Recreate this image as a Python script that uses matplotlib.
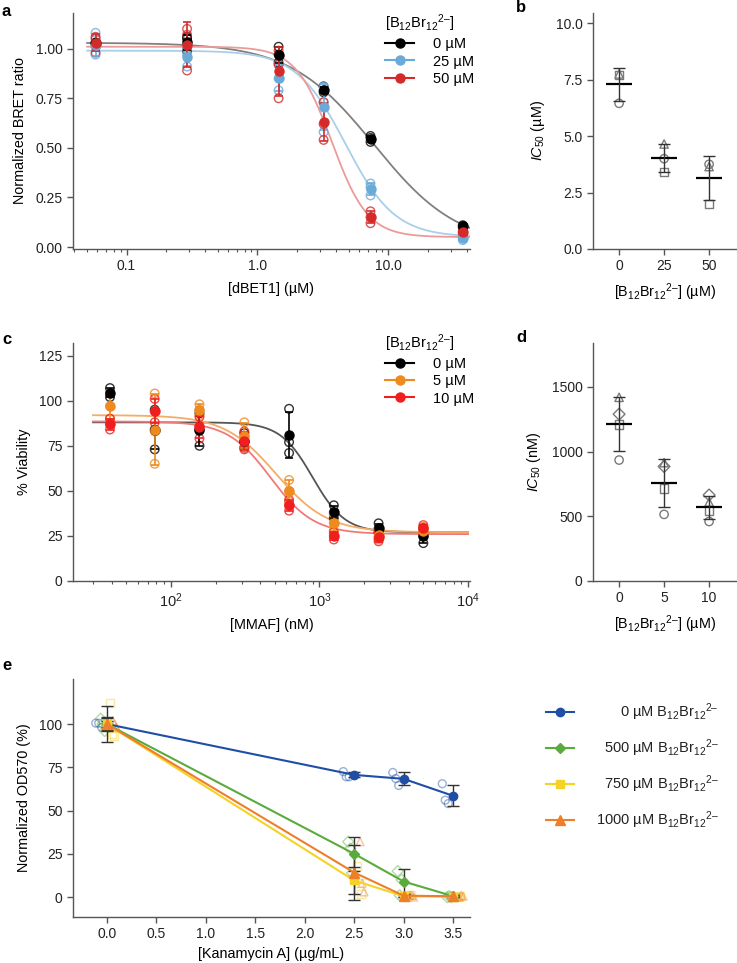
import numpy as np
import matplotlib
matplotlib.use('Agg')
import matplotlib.pyplot as plt
from matplotlib.lines import Line2D
from matplotlib.ticker import FuncFormatter, FixedLocator, NullFormatter

plt.rcParams['font.family'] = ['Liberation Sans', 'DejaVu Sans']
plt.rcParams['font.size'] = 10
plt.rcParams['axes.labelsize'] = 10.4
plt.rcParams['mathtext.fontset'] = 'custom'
plt.rcParams['mathtext.rm'] = 'Liberation Sans'
plt.rcParams['mathtext.it'] = 'Liberation Sans:italic'
plt.rcParams['mathtext.bf'] = 'Liberation Sans:bold'

BBR = r'$\mathregular{B_{12}Br_{12}{}^{2–}}$'

# ---------------- data ----------------
# panel a: dBET1 BRET, 3 replicates per concentration
a_conc = np.array([0.058, 0.29, 1.45, 3.2, 7.3, 37.0])
a_labels = ['0 µM', '25 µM', '50 µM']
a_reps = [
    np.array([[1.02, 1.03, 1.03], [0.99, 1.05, 1.06], [0.93, 0.97, 1.01],
              [0.78, 0.79, 0.81], [0.53, 0.55, 0.56], [0.10, 0.105, 0.11]]),
    np.array([[0.97, 1.01, 1.08], [0.91, 0.97, 1.00], [0.79, 0.85, 0.92],
              [0.58, 0.73, 0.81], [0.26, 0.30, 0.32], [0.035, 0.045, 0.05]]),
    np.array([[0.98, 1.05, 1.06], [0.89, 1.07, 1.10], [0.75, 0.92, 0.99],
              [0.54, 0.62, 0.73], [0.12, 0.15, 0.18], [0.07, 0.075, 0.08]]),
]
# fitted 4PL parameters: top, bottom, IC50, hill
a_fits = [(1.03, 0.0, 7.8, 1.35), (0.99, 0.05, 4.7, 2.3), (1.01, 0.05, 3.7, 3.16)]

# panel b: IC50 (µM)
b_groups = ['0', '25', '50']
b_vals = [[7.75, 7.7, 6.45], [4.65, 3.4, 4.0], [3.65, 2.0, 3.75]]
b_markers = ['^', 's', 'o']

# panel c: MMAF viability
c_conc = np.array([39, 78, 156, 312.5, 625, 1250, 2500, 5000])
c_labels = ['0 µM', '5 µM', '10 µM']
c_reps = [
    np.array([[102, 104, 107], [73, 84, 95], [75, 84, 93], [74, 77, 82],
              [71, 77, 95.5], [35, 38, 42], [27, 29, 32], [21, 25, 29]]),
    np.array([[90, 97, 104], [65, 83, 104], [92, 95, 98], [74, 80, 88],
              [44, 50, 56], [28, 32, 37], [23, 25, 28], [26, 28, 30]]),
    np.array([[84, 87, 90], [88, 94, 101], [79, 86, 91], [73, 77, 83],
              [39, 42, 45], [23, 25, 27], [22, 24, 27], [27, 29.5, 31]]),
]
c_fits = [(88, 27, 900, 4.0), (92, 27, 510, 2.5), (88.5, 26, 470, 3.0)]

# panel d: IC50 (nM)
d_groups = ['0', '5', '10']
d_vals = [[1420, 1290, 1210, 935], [915, 885, 714, 515], [610, 665, 545, 460]]
d_markers = ['^', 'D', 's', 'o']

# panel e: kanamycin growth
e_conc = np.array([0.0, 2.5, 3.0, 3.5])
e_labels = ['0 µM ' + BBR, '500 µM ' + BBR, '750 µM ' + BBR, '1000 µM ' + BBR]
e_mean = [[100, 70.6, 68.3, 58.5], [100, 25, 9, 0.5], [100, 9.6, 0.5, 0.2], [100, 14.2, 0.8, 0.5]]
e_err = [[1.5, 1.5, 3.8, 6.0], [4.0, 10, 7, 0.5], [10.5, 8, 0.5, 0.3], [3.5, 16, 1, 0.5]]
e_reps = [
    [[100.5, 100.5, 98], [72.5, 69.5, 69.5], [72, 68.5, 64.5], [65.5, 56, 54]],
    [[103, 100, 96], [32, 28, 14], [15, 1, 10], [0, 0.5, 0]],
    [[112, 94, 93], [18, 8, 2], [0, 1, 1], [0, 0, 0.5]],
    [[102, 100, 98], [32, 8, 3], [1, 1, 0], [0, 1, 0.5]],
]

# ---------------- style ----------------
a_colors = ['#000000', '#6aaad8', '#d42a2a']
a_curve = ['#808080', '#a9cfe9', '#eb9b9b']
c_colors = ['#000000', '#ee8a1e', '#f01e1e']
c_curve = ['#555555', '#f4ac66', '#f07a7a']
e_colors = ['#1f4ea6', '#5aab3c', '#f5d226', '#ee7f2a']
e_mk = ['o', 'D', 's', '^']
e_ms = [6, 5, 5.5, 6.5]
e_jit = [[-0.11, -0.08, -0.05], [-0.06, -0.04, -0.02], [0.03, 0.05, 0.07], [0.06, 0.08, 0.1]]


def hill(x, top, bottom, ic50, h):
    return bottom + (top - bottom) / (1 + (x / ic50) ** h)


def style(ax):
    for s in ['top', 'right']:
        ax.spines[s].set_visible(False)
    for s in ['left', 'bottom']:
        ax.spines[s].set_color('#555555')
        ax.spines[s].set_linewidth(1)
    ax.tick_params(which='both', direction='out', color='#555555', labelcolor='#222222', labelsize=10)
    ax.tick_params(which='major', length=4, width=1)
    ax.tick_params(which='minor', length=2.5, width=0.8)


def curve_panel(ax, conc, reps, fits, colors, curve_colors, xr):
    xx = np.logspace(np.log10(xr[0]), np.log10(xr[1]), 300)
    for r, f, c, cc in zip(reps, fits, colors, curve_colors):
        ax.plot(xx, hill(xx, *f), color=cc, lw=1.3, zorder=1)
    for r, c in zip(reps, colors):
        ax.scatter(np.repeat(conc, r.shape[1]), r.ravel(), facecolors='none',
                   edgecolors=c, s=38, lw=1, alpha=0.8, zorder=2)
        ax.errorbar(conc, r.mean(1), yerr=r.std(1, ddof=1), fmt='o', color=c, ms=6.5,
                    capsize=3, elinewidth=1.2, capthick=1.2, zorder=3)


def add_legend(ax, colors, labels, y):
    handles = [Line2D([0], [0], color=c, marker='o', ms=6.5, lw=1.5) for c in colors]
    ax.legend(handles, labels, title='[' + BBR + ']', loc='upper left',
              bbox_to_anchor=(0.786, y), frameon=False, fontsize=10.5, title_fontsize=10.5,
              handlelength=2.0, handletextpad=1.3, labelspacing=0.22, borderpad=0,
              borderaxespad=0, alignment='left')


def ic50_panel(ax, vals, markers, groups):
    for i, v in enumerate(vals):
        for y, m in zip(v, markers):
            ax.scatter(i, y, marker=m, facecolors='none', edgecolors='#7a7a7a', s=36, lw=1, zorder=2)
        v = np.array(v)
        ax.hlines(v.mean(), i - 0.29, i + 0.29, color='k', lw=1.6, zorder=3)
        ax.errorbar(i, v.mean(), yerr=v.std(ddof=1), fmt='none', color='#333333',
                    capsize=4.5, elinewidth=1, capthick=1, zorder=3)
    ax.set_xticks(range(len(groups)))
    ax.set_xticklabels(groups)
    ax.set_xlim(-0.58, 2.62)


fig = plt.figure(figsize=(7.37, 9.63), dpi=100)
W, H = 737, 963


def box(l, t, r, b):
    return [l / W, 1 - b / H, (r - l) / W, (b - t) / H]


# ---- a ----
ax = fig.add_axes(box(73, 13, 470, 249))
style(ax)
ax.set_xscale('log')
curve_panel(ax, a_conc, a_reps, a_fits, a_colors, a_curve, (0.05, 42))
ax.set_xlim(0.039, 42)
ax.set_ylim(-0.01, 1.18)
ax.set_yticks([0, 0.25, 0.5, 0.75, 1.0])
ax.yaxis.set_major_formatter(FuncFormatter(lambda v, p: f'{v:.2f}'))
ax.xaxis.set_major_locator(FixedLocator([0.1, 1, 10]))
ax.xaxis.set_major_formatter(FuncFormatter(lambda v, p: f'{v:.1f}'))
ax.xaxis.set_minor_formatter(NullFormatter())
ax.set_xlabel('[dBET1] (µM)', labelpad=6)
ax.set_ylabel('Normalized BRET ratio', labelpad=6)
add_legend(ax, a_colors, a_labels, 1.002)

# ---- b ----
ax = fig.add_axes(box(593, 13, 737, 249))
style(ax)
ic50_panel(ax, b_vals, b_markers, b_groups)
ax.set_ylim(0, 10.45)
ax.set_yticks([0, 2.5, 5, 7.5, 10])
ax.yaxis.set_major_formatter(FuncFormatter(lambda v, p: f'{v:.1f}'))
ax.set_ylabel(r'$\mathit{IC}_{\mathregular{50}}$ (µM)', labelpad=6)
ax.set_xlabel('[' + BBR + '] (µM)', labelpad=6)

# ---- c ----
ax = fig.add_axes(box(73, 343, 470, 581))
style(ax)
ax.set_xscale('log')
curve_panel(ax, c_conc, c_reps, c_fits, c_colors, c_curve, (30, 10000))
ax.set_xlim(22, 10300)
ax.set_ylim(0, 132)
ax.set_yticks([0, 25, 50, 75, 100, 125])
ax.xaxis.set_major_locator(FixedLocator([100, 1000, 10000]))
ax.xaxis.set_major_formatter(FuncFormatter(lambda v, p: r'$\mathregular{10^{%d}}$' % round(np.log10(v))))
ax.xaxis.set_minor_formatter(NullFormatter())
ax.tick_params(axis='x', which='major', labelsize=10.5)
ax.set_xlabel('[MMAF] (nM)', labelpad=6)
ax.set_ylabel('% Viability', labelpad=6)
add_legend(ax, c_colors, c_labels, 1.045)

# ---- d ----
ax = fig.add_axes(box(593, 343, 737, 581))
style(ax)
ic50_panel(ax, d_vals, d_markers, d_groups)
ax.set_ylim(0, 1840)
ax.set_yticks([0, 500, 1000, 1500])
ax.set_ylabel(r'$\mathit{IC}_{\mathregular{50}}$ (nM)', labelpad=6)
ax.set_xlabel('[' + BBR + '] (µM)', labelpad=6)

# ---- e ----
ax = fig.add_axes(box(73, 679, 470, 917))
style(ax)
for i in range(4):
    c = e_colors[i]
    reps = np.array(e_reps[i])
    for j in range(reps.shape[1]):
        ax.scatter(e_conc + e_jit[i][j], reps[:, j], marker=e_mk[i], facecolors='none',
                   edgecolors=c, alpha=0.45, s=32, lw=1, zorder=2)
for i in range(4):
    ax.errorbar(e_conc, e_mean[i], yerr=e_err[i], fmt='none', color='#333333',
                capsize=4, elinewidth=1, capthick=1, zorder=3)
for i in range(4):
    ax.plot(e_conc, e_mean[i], color=e_colors[i], marker=e_mk[i], ms=e_ms[i], lw=1.5, zorder=4)
ax.set_xlim(-0.34, 3.67)
ax.set_ylim(-11.5, 126)
ax.set_yticks([0, 25, 50, 75, 100])
ax.set_xticks(np.arange(0, 3.51, 0.5))
ax.xaxis.set_major_formatter(FuncFormatter(lambda v, p: f'{v:.1f}'))
ax.set_xlabel('[Kanamycin A] (µg/mL)', labelpad=4)
ax.set_ylabel('Normalized OD570 (%)', labelpad=6)

# legend for e, right-aligned labels
lax = fig.add_axes(box(540, 695, 737, 835))
lax.set_axis_off()
lax.set_xlim(0, 1)
lax.set_ylim(0, 1)
rows = np.linspace(0.879, 0.107, 4)
for i in range(4):
    lax.plot([0.03, 0.173], [rows[i]] * 2, color=e_colors[i], lw=1.5)
    lax.plot([0.101], [rows[i]], color=e_colors[i], marker=e_mk[i], ms=e_ms[i])
    lax.text(0.909, rows[i], e_labels[i], ha='right', va='center', fontsize=10.5, color='#222222')

# panel letters
for lab, x, y in [('a', 2, 12), ('b', 516, 8), ('c', 2, 340), ('d', 516, 338), ('e', 2, 665)]:
    fig.text(x / W, 1 - y / H, lab, fontsize=12, fontweight='bold', ha='left', va='center')

fig.savefig('out.png', dpi=100)
